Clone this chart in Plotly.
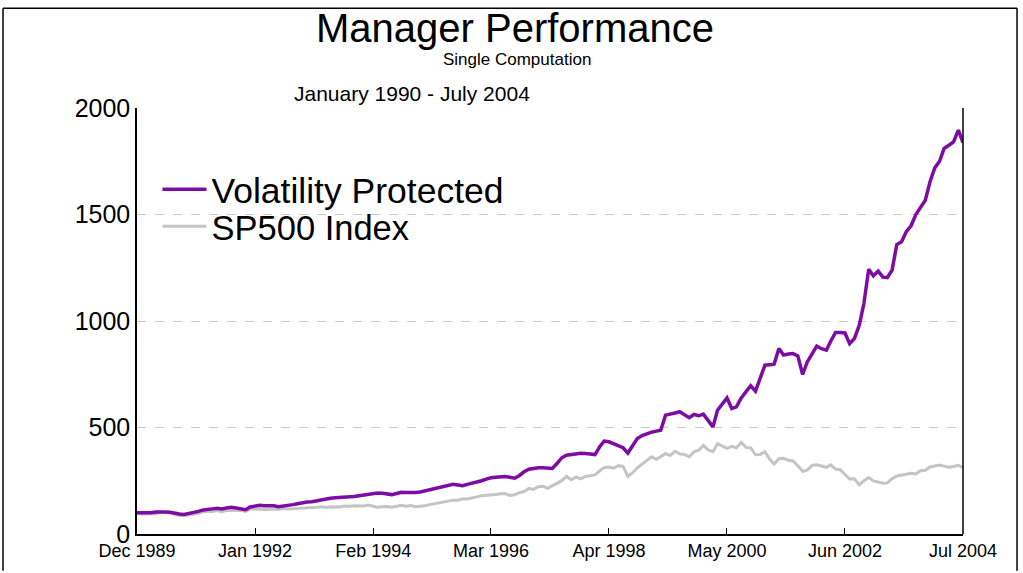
"""Manager Performance line chart, Volatility Protected vs SP500 Index."""

import pandas as pd
import plotly.graph_objects as go

# monthly points, Dec 1989 .. Jul 2004 (176 months)
months = pd.date_range("1989-12-01", periods=176, freq="MS")

volatility_protected = [
    100, 99, 102, 100, 103, 105, 103, 102, 96, 94, 92, 96,
    100, 106, 113, 117, 118, 121, 118, 122, 125, 122, 119, 114,
    127, 133, 135, 133, 134, 133, 128, 131, 131, 138, 142, 147,
    150, 151, 156, 160, 165, 168, 170, 171, 172, 174, 176, 180,
    183, 187, 193, 192, 191, 190, 185, 190, 196, 195, 194, 195,
    197, 202, 210, 215, 218, 221, 229, 233, 230, 227, 233, 238,
    244, 250, 258, 264, 266, 268, 270, 266, 262, 275, 292, 304,
    308, 311, 311, 309, 308, 331, 358, 370, 373, 377, 379, 378,
    376, 373, 410, 436, 433, 425, 414, 405, 380, 415, 448, 462,
    472, 478, 483, 487, 558, 561, 568, 574, 560, 546, 561, 555,
    563, 532, 503, 581, 610, 639, 589, 597, 639, 668, 696, 671,
    730, 793, 795, 797, 871, 840, 845, 847, 836, 749, 808, 850,
    882, 870, 863, 905, 946, 946, 944, 894, 918, 980, 1082, 1243,
    1212, 1234, 1206, 1204, 1239, 1359, 1372, 1419, 1447, 1500, 1530, 1567,
    1653, 1719, 1750, 1810, 1825, 1841, 1896, 1838,
]

sp500_index = [
    100.0, 93.1, 93.9, 96.2, 93.6, 102.2, 101.3, 100.8, 91.3, 86.6, 86.0, 91.2,
    93.4, 97.3, 103.9, 106.2, 106.2, 110.3, 105.0, 109.7, 111.9, 109.8, 111.1, 106.2,
    118.0, 115.7, 116.8, 114.2, 117.4, 117.5, 115.5, 120.0, 117.2, 118.2, 118.5, 122.1,
    123.3, 124.2, 125.5, 127.8, 124.6, 127.4, 127.5, 126.8, 131.2, 129.9, 132.4, 130.7,
    132.0, 136.3, 132.2, 126.1, 127.6, 129.2, 125.7, 129.7, 134.5, 130.9, 133.7, 128.4,
    130.0, 133.1, 137.9, 141.7, 145.6, 150.9, 154.1, 159.0, 159.0, 165.4, 164.5, 171.3,
    174.3, 180.0, 181.2, 182.7, 185.1, 189.3, 189.8, 181.1, 184.5, 194.5, 199.6, 214.2,
    209.6, 222.5, 223.8, 214.2, 226.7, 240.0, 250.5, 270.0, 254.5, 268.0, 258.8, 270.3,
    274.6, 277.4, 296.9, 311.8, 314.6, 308.7, 320.8, 317.1, 270.9, 287.8, 310.9, 329.3,
    347.8, 362.1, 350.4, 364.0, 377.8, 368.4, 388.4, 376.0, 373.6, 363.0, 385.7, 393.0,
    415.7, 394.6, 386.6, 424.0, 411.0, 402.0, 411.6, 404.9, 429.4, 406.5, 404.5, 372.1,
    373.6, 386.5, 350.9, 328.3, 353.6, 355.4, 346.5, 342.7, 320.8, 294.6, 299.9, 322.4,
    324.9, 319.8, 313.2, 324.7, 304.7, 302.0, 280.1, 258.0, 259.2, 230.7, 250.6, 264.9,
    249.0, 242.1, 238.0, 240.0, 259.5, 272.7, 275.7, 280.2, 285.2, 281.8, 297.3, 299.4,
    314.6, 320.1, 324.0, 318.7, 313.3, 317.1, 322.8, 311.7,
]

tick_dates = ["1989-12-01", "1992-01-01", "1994-02-01", "1996-03-01",
              "1998-04-01", "2000-05-01", "2002-06-01", "2004-07-01"]
tick_labels = ["Dec 1989", "Jan 1992", "Feb 1994", "Mar 1996",
               "Apr 1998", "May 2000", "Jun 2002", "Jul 2004"]
y_ticks = [0, 500, 1000, 1500, 2000]

FONT = "Liberation Sans, Arial, sans-serif"
PURPLE = "#7E0CA3"
GREY = "#C4C4C4"

fig = go.Figure()
fig.add_trace(go.Scatter(
    x=months, y=sp500_index, mode="lines", name="SP500 Index",
    line=dict(color=GREY, width=3), legend="legend2", showlegend=True,
))
fig.add_trace(go.Scatter(
    x=months, y=volatility_protected, mode="lines", name="Volatility Protected",
    line=dict(color=PURPLE, width=3.5), legend="legend", showlegend=True,
))

# outer frame and right-hand axis line
frame = dict(type="line", xref="paper", yref="paper", line=dict(color="black", width=1.5))
fig.add_shape(frame, x0=-0.1622, x1=-0.1622, y0=1.234, y1=-0.0864)
fig.add_shape(frame, x0=-0.1622, x1=1.0654, y0=1.234, y1=1.234)
fig.add_shape(frame, x0=1.0654, x1=1.0654, y0=1.234, y1=-0.0864)
fig.add_shape(type="line", xref="paper", yref="paper", x0=1, x1=1, y0=0, y1=1,
              line=dict(color="black", width=1.5))

header = dict(xref="paper", yref="paper", showarrow=False,
              xanchor="center", yanchor="middle")
fig.add_annotation(header, text="Manager Performance", x=0.4576, y=1.187,
                   font=dict(size=40, color="black"))
fig.add_annotation(header, text="Single Computation", x=0.46, y=1.1145,
                   font=dict(size=17, color="black"))
fig.add_annotation(header, text="January 1990 - July 2004", x=0.333, y=1.035,
                   font=dict(size=21, color="black"))

legend_style = dict(
    xanchor="left", yanchor="middle", bgcolor="rgba(0,0,0,0)", itemwidth=44,
)

fig.update_layout(
    width=1023, height=573,
    margin=dict(l=137, r=60, t=108, b=37),
    paper_bgcolor="white", plot_bgcolor="white",
    font=dict(family=FONT, color="black"),
    showlegend=True,
    legend=dict(legend_style, x=0.0248, y=0.8084, font=dict(size=35.5, color="black")),
    legend2=dict(legend_style, x=0.0248, y=0.722, font=dict(size=34.5, color="black")),
    xaxis=dict(
        range=["1989-12-01", "2004-07-01"],
        tickvals=tick_dates, ticktext=tick_labels,
        showgrid=False, showline=True, linecolor="black", linewidth=1.5,
        ticks="inside", ticklen=6, tickcolor="black",
        tickfont=dict(size=18), zeroline=False,
    ),
    yaxis=dict(
        range=[0, 2000], tickvals=y_ticks,
        showgrid=True, gridcolor="#C8C8C8", griddash="dash", gridwidth=1,
        showline=True, linecolor="black", linewidth=1.5,
        ticks="", tickfont=dict(size=25), zeroline=False,
    ),
)

fig.write_html("out.html", config={"displayModeBar": False},
               post_script="document.body.style.margin = '0';")
